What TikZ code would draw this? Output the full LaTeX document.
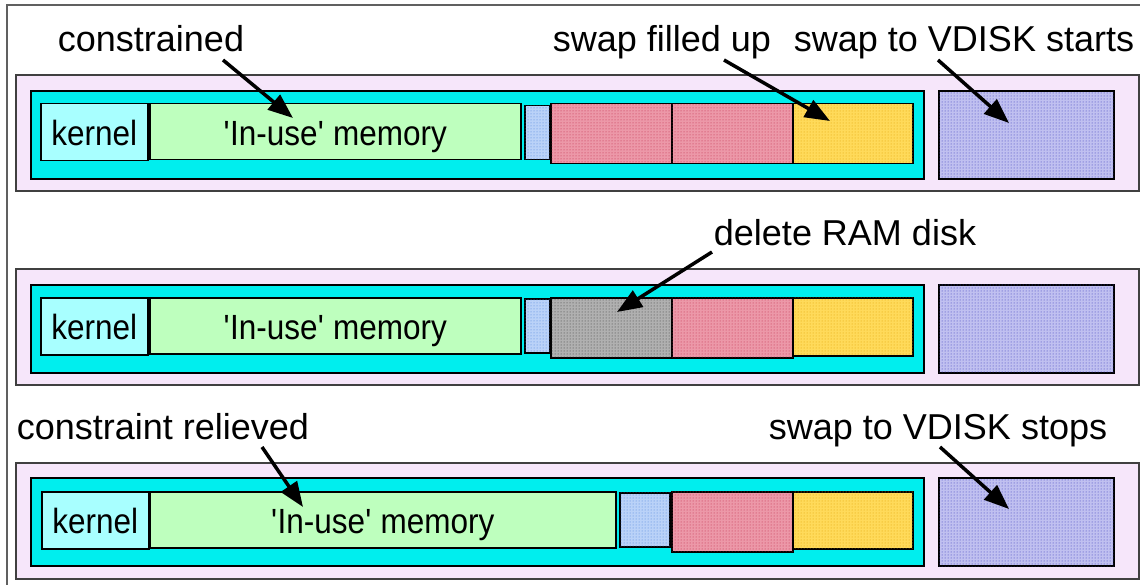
\documentclass[tikz,border=0pt]{standalone}
\usepackage{fontspec}
\setmainfont{Liberation Sans}
\newfontfamily\boxfont{Liberation Sans}[FakeStretch=0.9]
\usetikzlibrary{arrows.meta,patterns}
\definecolor{pinkbg}{HTML}{F6E6FA}
\definecolor{cyanbg}{HTML}{00EEEE}
\definecolor{kernelc}{HTML}{A8FFFF}
\definecolor{inusec}{HTML}{BEFFBE}
\definecolor{sbbase}{HTML}{BAD2F8}
\definecolor{sbdot}{HTML}{4A80DA}
\definecolor{redbase}{HTML}{EC98A8}
\definecolor{reddot}{HTML}{C02848}
\definecolor{yelbase}{HTML}{FFDA5A}
\definecolor{yeldot}{HTML}{E0A000}
\definecolor{graybase}{HTML}{B0B0B0}
\definecolor{graydot}{HTML}{383838}
\definecolor{vdbase}{HTML}{C0C0F0}
\definecolor{vddot}{HTML}{3434B8}
\definecolor{framec}{HTML}{606060}
\definecolor{pinkedge}{HTML}{404040}
\begin{document}
\begin{tikzpicture}[x=1pt,y=-1pt,
  blk/.style={draw=black, line width=1.5pt, inner sep=0pt, anchor=north west,
    font=\boxfont\fontsize{35}{38}\selectfont, text height=27pt, text depth=0pt},
  pinkrow/.style={draw=pinkedge, line width=1.6pt, fill=pinkbg, inner sep=0pt, anchor=north west,
    minimum width=1123pt, minimum height=116pt},
  cyanrow/.style={draw=black, line width=2pt, fill=cyanbg, inner sep=0pt, anchor=north west,
    minimum height=88pt},
  kern/.style={blk, fill=kernelc, minimum width=107pt, minimum height=57pt},
  inuse/.style={blk, fill=inusec, minimum height=56pt},
  sblue/.style={blk, fill=sbbase, minimum height=54pt, postaction={pattern=dots, pattern color=sbdot}},
  redb/.style={blk, fill=redbase, minimum width=121pt, minimum height=60pt, postaction={pattern=dots, pattern color=reddot}},
  grayb/.style={blk, fill=graybase, minimum width=121pt, minimum height=60pt, postaction={pattern=dots, pattern color=graydot}},
  yelb/.style={blk, fill=yelbase, minimum width=120pt, postaction={pattern=dots, pattern color=yeldot}},
  vdb/.style={blk, line width=2pt, fill=vdbase, minimum width=175pt, minimum height=88pt, postaction={pattern=dots, pattern color=vddot}},
  lab/.style={anchor=base, inner sep=0pt, font=\fontsize{36}{40}\selectfont},
  arr/.style={line width=3.5pt, -{Triangle[length=25pt,width=19pt]}}]
\useasboundingbox (0,0) rectangle (1140,585);
\draw[framec, line width=1.2pt] (7,590) -- (7,5) -- (1145,5);

% ---------- row 1 ----------
\node[pinkrow] (p1) at (15,74) {};
\node[cyanrow, minimum width=893pt] (c1) at (30,90) {};
\node[kern] (k1) at (40,103) {kernel};
\node[inuse, minimum width=371pt] (u1) at (149,103) {\textquotesingle In-use\textquotesingle\ memory};
\node[sblue, minimum width=25pt] (s1) at (524,105) {};
\node[redb] (r1a) at (550,103) {};
\node[redb] (r1b) at (671,103) {};
\node[yelb, minimum height=60pt] (y1) at (792,103) {};
\node[vdb] (v1) at (938,90) {};

% ---------- row 2 ----------
\node[pinkrow] (p2) at (15,268) {};
\node[cyanrow, minimum width=893pt] (c2) at (30,284) {};
\node[kern] (k2) at (40,297) {kernel};
\node[inuse, minimum width=371pt] (u2) at (149,297) {\textquotesingle In-use\textquotesingle\ memory};
\node[sblue, minimum width=25pt] (s2) at (524,298) {};
\node[grayb] (g2) at (550,297) {};
\node[redb] (r2) at (671,297) {};
\node[yelb, minimum height=58pt] (y2) at (792,297) {};
\node[vdb] (v2) at (938,284) {};

% ---------- row 3 ----------
\node[pinkrow] (p3) at (15,462) {};
\node[cyanrow, minimum width=893pt] (c3) at (30,477) {};
\node[kern] (k3) at (41,491) {kernel};
\node[inuse, minimum width=466pt] (u3) at (149,491) {\textquotesingle In-use\textquotesingle\ memory};
\node[sblue, minimum width=50pt] (s3) at (619,492) {};
\node[redb] (r3) at (671,491) {};
\node[yelb, minimum height=57pt] (y3) at (792,491) {};
\node[vdb] (v3) at (938,477) {};

% ---------- labels ----------
\node[lab] (l1) at (151,52) {constrained};
\node[lab] (l2) at (662,52) {swap filled up};
\node[lab] (l3) at (964,52) {swap to VDISK starts};
\node[lab] (l4) at (845,246) {delete RAM disk};
\node[lab] (l5) at (163,439) {constraint relieved};
\node[lab] (l6) at (938,439) {swap to VDISK stops};

% ---------- arrows ----------
\coordinate (a1s) at (223,60);  \coordinate (a1e) at (293,118);
\coordinate (a2s) at (724,60);  \coordinate (a2e) at (830,121);
\coordinate (a3s) at (938,60);  \coordinate (a3e) at (1009,123);
\coordinate (a4s) at (712,252); \coordinate (a4e) at (617,312);
\coordinate (a5s) at (262,447); \coordinate (a5e) at (303,507);
\coordinate (a6s) at (940,447); \coordinate (a6e) at (1009,509);
\draw[arr] (a1s) -- (a1e);
\draw[arr] (a2s) -- (a2e);
\draw[arr] (a3s) -- (a3e);
\draw[arr] (a4s) -- (a4e);
\draw[arr] (a5s) -- (a5e);
\draw[arr] (a6s) -- (a6e);
\end{tikzpicture}
\end{document}
